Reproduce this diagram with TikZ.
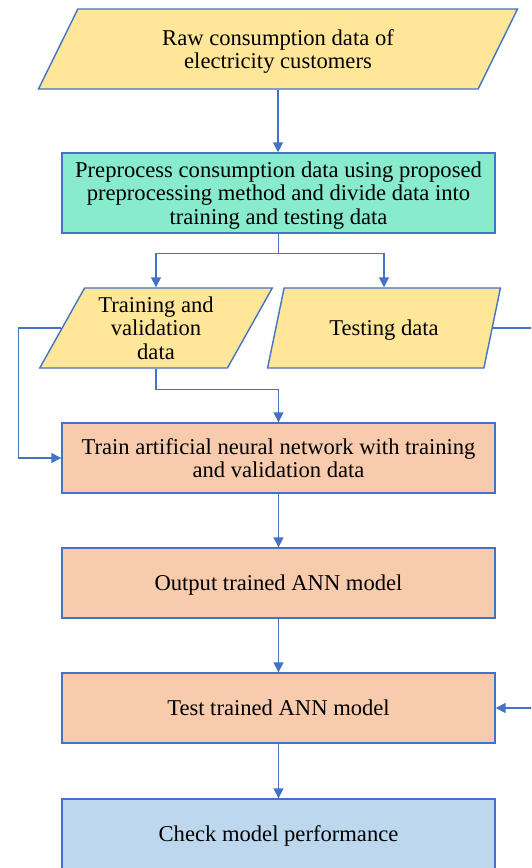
\documentclass[tikz,border=0pt]{standalone}
\usepackage{fontspec}
\setmainfont{Liberation Serif}
\usetikzlibrary{shapes.geometric,arrows.meta}
\definecolor{edge}{HTML}{4472C4}
\definecolor{dyellow}{HTML}{FFE699}
\definecolor{pgreen}{HTML}{87EBCC}
\definecolor{porange}{HTML}{F8CBAD}
\definecolor{pblue}{HTML}{BDD7EE}
\begin{document}
\begin{tikzpicture}[x=0.5pt,y=-0.5pt,
  every node/.style={font=\fontsize{11.3}{11.75}\selectfont, align=center, text depth=0pt},
  databox/.style={trapezium, trapezium left angle=60, trapezium right angle=120,
    trapezium stretches=true, draw=edge, fill=dyellow, line width=0.7pt,
    minimum height=40pt, inner sep=0pt},
  procbox/.style={rectangle, draw=edge, line width=0.7pt,
    minimum width=216.5pt, minimum height=35pt, inner sep=2pt},
  arr/.style={draw=edge, line width=0.75pt, -{Triangle[length=5pt,width=5pt]}}]

\useasboundingbox (0,0) rectangle (531,868);
\clip (0,0) rectangle (531,868);

\node[databox, minimum width=240pt] (raw) at (278,49)
  {Raw consumption data of\\electricity customers};
\node[procbox, fill=pgreen, minimum height=40pt] (pre) at (278.5,193)
  {Preprocess consumption data using proposed\\preprocessing method and divide data into\\training and testing data};
\node[databox, minimum width=117pt] (tv) at (156,328)
  {Training and\\validation\\data};
\node[databox, minimum width=117pt] (test) at (384,328) {Testing data};
\node[procbox, fill=porange] (train) at (278.5,458)
  {Train artificial neural network with training\\and validation data};
\node[procbox, fill=porange] (out) at (278.5,583) {Output trained ANN model};
\node[procbox, fill=porange] (tst) at (278.5,708) {Test trained ANN model};
\node[procbox, fill=pblue] (chk) at (278.5,834) {Check model performance};

\draw[arr] (raw.south) -- (raw.south |- pre.north);
\draw[arr] (pre.south) -- ++(0,20) -| (tv.center |- tv.north);
\draw[arr] (pre.south) -- ++(0,20) -| (test.center |- test.north);
\draw[arr] (tv.center |- tv.south) -- ++(0,21) -| (train.north);
\draw[arr] (tv.west) -- ++(-43,0) |- (train.west);
\draw[arr] (test.east) -- ++(70,0) |- (tst.east);
\draw[arr] (train.south) -- (out.north);
\draw[arr] (out.south) -- (tst.north);
\draw[arr] (tst.south) -- (chk.north);
\end{tikzpicture}
\end{document}
